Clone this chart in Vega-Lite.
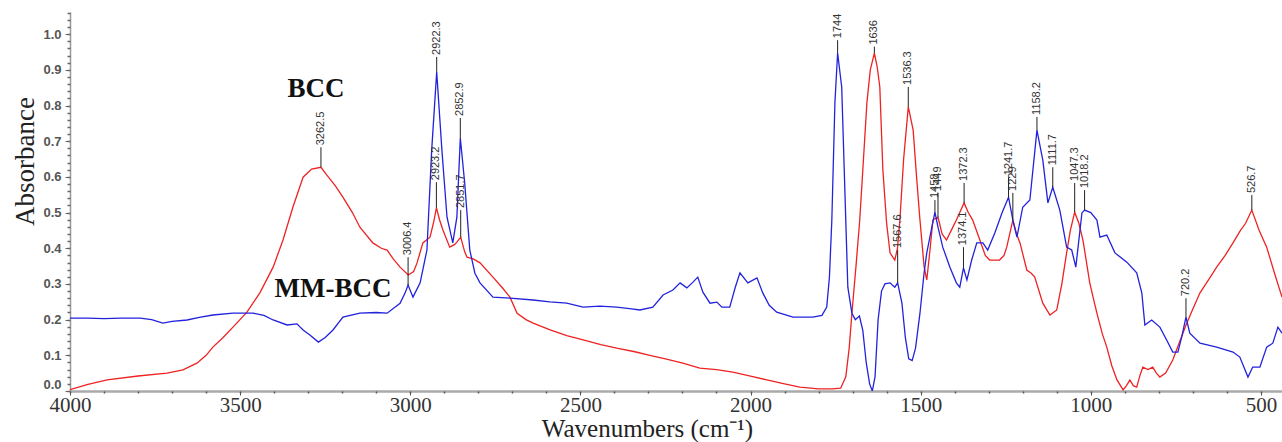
{
  "$schema": "https://vega.github.io/schema/vega-lite/v6.json",
  "width": 1212,
  "height": 379,
  "autosize": {"type": "none"},
  "padding": {"left": 70, "top": 12, "right": 0, "bottom": 51},
  "background": "white",
  "config": {"view": {"stroke": null}, "axis": {"grid": false}},
  "resolve": {"axis": {"x": "independent", "y": "independent"}},
  "datasets": {
    "spectra": [
      {"w":4000,"a":0.004,"s":"BCC"},{"w":3950,"a":0.018,"s":"BCC"},{"w":3891,"a":0.031,"s":"BCC"},{"w":3800,"a":0.042,"s":"BCC"},{"w":3715,"a":0.05,"s":"BCC"},{"w":3668,"a":0.059,"s":"BCC"},{"w":3627,"a":0.078,"s":"BCC"},{"w":3600,"a":0.1,"s":"BCC"},{"w":3580,"a":0.123,"s":"BCC"},{"w":3550,"a":0.15,"s":"BCC"},{"w":3521,"a":0.179,"s":"BCC"},{"w":3480,"a":0.221,"s":"BCC"},{"w":3442,"a":0.275,"s":"BCC"},{"w":3403,"a":0.347,"s":"BCC"},{"w":3374,"a":0.423,"s":"BCC"},{"w":3345,"a":0.515,"s":"BCC"},{"w":3315,"a":0.599,"s":"BCC"},{"w":3290,"a":0.622,"s":"BCC"},{"w":3262.5,"a":0.627,"s":"BCC"},{"w":3245,"a":0.605,"s":"BCC"},{"w":3220,"a":0.575,"s":"BCC"},{"w":3198,"a":0.543,"s":"BCC"},{"w":3170,"a":0.5,"s":"BCC"},{"w":3148,"a":0.459,"s":"BCC"},{"w":3110,"a":0.415,"s":"BCC"},{"w":3085,"a":0.4,"s":"BCC"},{"w":3068,"a":0.395,"s":"BCC"},{"w":3050,"a":0.37,"s":"BCC"},{"w":3030,"a":0.347,"s":"BCC"},{"w":3006,"a":0.325,"s":"BCC"},{"w":2990,"a":0.335,"s":"BCC"},{"w":2980,"a":0.359,"s":"BCC"},{"w":2963,"a":0.415,"s":"BCC"},{"w":2942,"a":0.431,"s":"BCC"},{"w":2932,"a":0.47,"s":"BCC"},{"w":2923,"a":0.513,"s":"BCC"},{"w":2914,"a":0.48,"s":"BCC"},{"w":2904,"a":0.451,"s":"BCC"},{"w":2884,"a":0.403,"s":"BCC"},{"w":2870,"a":0.41,"s":"BCC"},{"w":2863,"a":0.417,"s":"BCC"},{"w":2851.7,"a":0.431,"s":"BCC"},{"w":2840,"a":0.39,"s":"BCC"},{"w":2833,"a":0.375,"s":"BCC"},{"w":2815,"a":0.37,"s":"BCC"},{"w":2795,"a":0.359,"s":"BCC"},{"w":2757,"a":0.319,"s":"BCC"},{"w":2730,"a":0.29,"s":"BCC"},{"w":2707,"a":0.263,"s":"BCC"},{"w":2686,"a":0.218,"s":"BCC"},{"w":2660,"a":0.2,"s":"BCC"},{"w":2639,"a":0.19,"s":"BCC"},{"w":2589,"a":0.171,"s":"BCC"},{"w":2540,"a":0.155,"s":"BCC"},{"w":2492,"a":0.143,"s":"BCC"},{"w":2440,"a":0.13,"s":"BCC"},{"w":2393,"a":0.12,"s":"BCC"},{"w":2340,"a":0.11,"s":"BCC"},{"w":2296,"a":0.1,"s":"BCC"},{"w":2250,"a":0.09,"s":"BCC"},{"w":2199,"a":0.078,"s":"BCC"},{"w":2149,"a":0.064,"s":"BCC"},{"w":2100,"a":0.06,"s":"BCC"},{"w":2052,"a":0.053,"s":"BCC"},{"w":2000,"a":0.042,"s":"BCC"},{"w":1952,"a":0.031,"s":"BCC"},{"w":1900,"a":0.02,"s":"BCC"},{"w":1855,"a":0.011,"s":"BCC"},{"w":1800,"a":0.006,"s":"BCC"},{"w":1760,"a":0.006,"s":"BCC"},{"w":1735,"a":0.008,"s":"BCC"},{"w":1720,"a":0.04,"s":"BCC"},{"w":1710,"a":0.12,"s":"BCC"},{"w":1702,"a":0.218,"s":"BCC"},{"w":1690,"a":0.35,"s":"BCC"},{"w":1679,"a":0.479,"s":"BCC"},{"w":1668,"a":0.65,"s":"BCC"},{"w":1658,"a":0.807,"s":"BCC"},{"w":1648,"a":0.9,"s":"BCC"},{"w":1636,"a":0.947,"s":"BCC"},{"w":1628,"a":0.91,"s":"BCC"},{"w":1620,"a":0.852,"s":"BCC"},{"w":1611,"a":0.619,"s":"BCC"},{"w":1600,"a":0.47,"s":"BCC"},{"w":1590,"a":0.387,"s":"BCC"},{"w":1576,"a":0.367,"s":"BCC"},{"w":1568,"a":0.4,"s":"BCC"},{"w":1561,"a":0.479,"s":"BCC"},{"w":1550,"a":0.65,"s":"BCC"},{"w":1536.3,"a":0.796,"s":"BCC"},{"w":1522,"a":0.731,"s":"BCC"},{"w":1512,"a":0.6,"s":"BCC"},{"w":1502,"a":0.479,"s":"BCC"},{"w":1490,"a":0.35,"s":"BCC"},{"w":1482,"a":0.311,"s":"BCC"},{"w":1472,"a":0.4,"s":"BCC"},{"w":1464,"a":0.479,"s":"BCC"},{"w":1449,"a":0.487,"s":"BCC"},{"w":1437,"a":0.44,"s":"BCC"},{"w":1424,"a":0.423,"s":"BCC"},{"w":1410,"a":0.45,"s":"BCC"},{"w":1395,"a":0.479,"s":"BCC"},{"w":1372.3,"a":0.527,"s":"BCC"},{"w":1360,"a":0.5,"s":"BCC"},{"w":1347,"a":0.479,"s":"BCC"},{"w":1326,"a":0.423,"s":"BCC"},{"w":1310,"a":0.38,"s":"BCC"},{"w":1297,"a":0.367,"s":"BCC"},{"w":1268,"a":0.367,"s":"BCC"},{"w":1255,"a":0.38,"s":"BCC"},{"w":1247,"a":0.403,"s":"BCC"},{"w":1229,"a":0.479,"s":"BCC"},{"w":1218,"a":0.44,"s":"BCC"},{"w":1208,"a":0.415,"s":"BCC"},{"w":1188,"a":0.339,"s":"BCC"},{"w":1175,"a":0.33,"s":"BCC"},{"w":1165,"a":0.32,"s":"BCC"},{"w":1141,"a":0.246,"s":"BCC"},{"w":1120,"a":0.213,"s":"BCC"},{"w":1100,"a":0.227,"s":"BCC"},{"w":1085,"a":0.3,"s":"BCC"},{"w":1071,"a":0.387,"s":"BCC"},{"w":1060,"a":0.45,"s":"BCC"},{"w":1047.3,"a":0.501,"s":"BCC"},{"w":1035,"a":0.47,"s":"BCC"},{"w":1023,"a":0.423,"s":"BCC"},{"w":1003,"a":0.303,"s":"BCC"},{"w":990,"a":0.25,"s":"BCC"},{"w":979,"a":0.207,"s":"BCC"},{"w":966,"a":0.16,"s":"BCC"},{"w":953,"a":0.123,"s":"BCC"},{"w":938,"a":0.07,"s":"BCC"},{"w":923,"a":0.031,"s":"BCC"},{"w":905,"a":0.003,"s":"BCC"},{"w":895,"a":0.015,"s":"BCC"},{"w":885,"a":0.031,"s":"BCC"},{"w":875,"a":0.015,"s":"BCC"},{"w":865,"a":0.011,"s":"BCC"},{"w":855,"a":0.045,"s":"BCC"},{"w":847,"a":0.067,"s":"BCC"},{"w":832,"a":0.06,"s":"BCC"},{"w":818,"a":0.067,"s":"BCC"},{"w":807,"a":0.05,"s":"BCC"},{"w":797,"a":0.039,"s":"BCC"},{"w":780,"a":0.05,"s":"BCC"},{"w":759,"a":0.087,"s":"BCC"},{"w":738,"a":0.14,"s":"BCC"},{"w":718,"a":0.19,"s":"BCC"},{"w":700,"a":0.23,"s":"BCC"},{"w":679,"a":0.275,"s":"BCC"},{"w":655,"a":0.31,"s":"BCC"},{"w":630,"a":0.347,"s":"BCC"},{"w":605,"a":0.38,"s":"BCC"},{"w":582,"a":0.415,"s":"BCC"},{"w":560,"a":0.45,"s":"BCC"},{"w":545,"a":0.47,"s":"BCC"},{"w":526.7,"a":0.507,"s":"BCC"},{"w":505,"a":0.45,"s":"BCC"},{"w":483,"a":0.403,"s":"BCC"},{"w":460,"a":0.33,"s":"BCC"},{"w":438,"a":0.263,"s":"BCC"},
      {"w":4000,"a":0.204,"s":"MM-BCC"},{"w":3950,"a":0.204,"s":"MM-BCC"},{"w":3900,"a":0.203,"s":"MM-BCC"},{"w":3850,"a":0.204,"s":"MM-BCC"},{"w":3794,"a":0.204,"s":"MM-BCC"},{"w":3760,"a":0.2,"s":"MM-BCC"},{"w":3727,"a":0.19,"s":"MM-BCC"},{"w":3700,"a":0.195,"s":"MM-BCC"},{"w":3656,"a":0.199,"s":"MM-BCC"},{"w":3620,"a":0.206,"s":"MM-BCC"},{"w":3580,"a":0.213,"s":"MM-BCC"},{"w":3521,"a":0.218,"s":"MM-BCC"},{"w":3462,"a":0.218,"s":"MM-BCC"},{"w":3430,"a":0.212,"s":"MM-BCC"},{"w":3403,"a":0.199,"s":"MM-BCC"},{"w":3362,"a":0.185,"s":"MM-BCC"},{"w":3333,"a":0.188,"s":"MM-BCC"},{"w":3315,"a":0.171,"s":"MM-BCC"},{"w":3295,"a":0.157,"s":"MM-BCC"},{"w":3270,"a":0.137,"s":"MM-BCC"},{"w":3250,"a":0.15,"s":"MM-BCC"},{"w":3227,"a":0.171,"s":"MM-BCC"},{"w":3198,"a":0.207,"s":"MM-BCC"},{"w":3148,"a":0.218,"s":"MM-BCC"},{"w":3100,"a":0.22,"s":"MM-BCC"},{"w":3068,"a":0.218,"s":"MM-BCC"},{"w":3030,"a":0.246,"s":"MM-BCC"},{"w":3015,"a":0.275,"s":"MM-BCC"},{"w":3006.4,"a":0.297,"s":"MM-BCC"},{"w":2992,"a":0.263,"s":"MM-BCC"},{"w":2971,"a":0.303,"s":"MM-BCC"},{"w":2951,"a":0.395,"s":"MM-BCC"},{"w":2937,"a":0.675,"s":"MM-BCC"},{"w":2922.3,"a":0.894,"s":"MM-BCC"},{"w":2907,"a":0.675,"s":"MM-BCC"},{"w":2892,"a":0.487,"s":"MM-BCC"},{"w":2875,"a":0.415,"s":"MM-BCC"},{"w":2863,"a":0.487,"s":"MM-BCC"},{"w":2852.9,"a":0.709,"s":"MM-BCC"},{"w":2840,"a":0.583,"s":"MM-BCC"},{"w":2825,"a":0.395,"s":"MM-BCC"},{"w":2810,"a":0.33,"s":"MM-BCC"},{"w":2795,"a":0.303,"s":"MM-BCC"},{"w":2757,"a":0.263,"s":"MM-BCC"},{"w":2707,"a":0.26,"s":"MM-BCC"},{"w":2639,"a":0.255,"s":"MM-BCC"},{"w":2590,"a":0.25,"s":"MM-BCC"},{"w":2540,"a":0.246,"s":"MM-BCC"},{"w":2492,"a":0.235,"s":"MM-BCC"},{"w":2443,"a":0.238,"s":"MM-BCC"},{"w":2393,"a":0.235,"s":"MM-BCC"},{"w":2350,"a":0.23,"s":"MM-BCC"},{"w":2325,"a":0.227,"s":"MM-BCC"},{"w":2287,"a":0.235,"s":"MM-BCC"},{"w":2257,"a":0.269,"s":"MM-BCC"},{"w":2228,"a":0.283,"s":"MM-BCC"},{"w":2207,"a":0.303,"s":"MM-BCC"},{"w":2187,"a":0.289,"s":"MM-BCC"},{"w":2169,"a":0.305,"s":"MM-BCC"},{"w":2155,"a":0.319,"s":"MM-BCC"},{"w":2140,"a":0.277,"s":"MM-BCC"},{"w":2119,"a":0.246,"s":"MM-BCC"},{"w":2099,"a":0.249,"s":"MM-BCC"},{"w":2084,"a":0.235,"s":"MM-BCC"},{"w":2061,"a":0.235,"s":"MM-BCC"},{"w":2045,"a":0.29,"s":"MM-BCC"},{"w":2031,"a":0.331,"s":"MM-BCC"},{"w":2008,"a":0.303,"s":"MM-BCC"},{"w":1981,"a":0.317,"s":"MM-BCC"},{"w":1964,"a":0.275,"s":"MM-BCC"},{"w":1945,"a":0.24,"s":"MM-BCC"},{"w":1923,"a":0.221,"s":"MM-BCC"},{"w":1875,"a":0.207,"s":"MM-BCC"},{"w":1817,"a":0.207,"s":"MM-BCC"},{"w":1790,"a":0.212,"s":"MM-BCC"},{"w":1776,"a":0.235,"s":"MM-BCC"},{"w":1768,"a":0.32,"s":"MM-BCC"},{"w":1761,"a":0.479,"s":"MM-BCC"},{"w":1752,"a":0.807,"s":"MM-BCC"},{"w":1744,"a":0.947,"s":"MM-BCC"},{"w":1732,"a":0.852,"s":"MM-BCC"},{"w":1723,"a":0.571,"s":"MM-BCC"},{"w":1714,"a":0.291,"s":"MM-BCC"},{"w":1702,"a":0.218,"s":"MM-BCC"},{"w":1692,"a":0.2,"s":"MM-BCC"},{"w":1680,"a":0.21,"s":"MM-BCC"},{"w":1670,"a":0.17,"s":"MM-BCC"},{"w":1660,"a":0.08,"s":"MM-BCC"},{"w":1650,"a":0.02,"s":"MM-BCC"},{"w":1642,"a":0.0,"s":"MM-BCC"},{"w":1634,"a":0.04,"s":"MM-BCC"},{"w":1625,"a":0.2,"s":"MM-BCC"},{"w":1615,"a":0.28,"s":"MM-BCC"},{"w":1605,"a":0.3,"s":"MM-BCC"},{"w":1590,"a":0.303,"s":"MM-BCC"},{"w":1576,"a":0.291,"s":"MM-BCC"},{"w":1567.6,"a":0.303,"s":"MM-BCC"},{"w":1555,"a":0.246,"s":"MM-BCC"},{"w":1545,"a":0.15,"s":"MM-BCC"},{"w":1535,"a":0.09,"s":"MM-BCC"},{"w":1525,"a":0.085,"s":"MM-BCC"},{"w":1515,"a":0.12,"s":"MM-BCC"},{"w":1502,"a":0.218,"s":"MM-BCC"},{"w":1490,"a":0.33,"s":"MM-BCC"},{"w":1482,"a":0.387,"s":"MM-BCC"},{"w":1467,"a":0.459,"s":"MM-BCC"},{"w":1458,"a":0.501,"s":"MM-BCC"},{"w":1449,"a":0.459,"s":"MM-BCC"},{"w":1435,"a":0.403,"s":"MM-BCC"},{"w":1414,"a":0.347,"s":"MM-BCC"},{"w":1395,"a":0.303,"s":"MM-BCC"},{"w":1385,"a":0.291,"s":"MM-BCC"},{"w":1374.1,"a":0.345,"s":"MM-BCC"},{"w":1364,"a":0.311,"s":"MM-BCC"},{"w":1350,"a":0.367,"s":"MM-BCC"},{"w":1335,"a":0.415,"s":"MM-BCC"},{"w":1317,"a":0.415,"s":"MM-BCC"},{"w":1303,"a":0.395,"s":"MM-BCC"},{"w":1282,"a":0.443,"s":"MM-BCC"},{"w":1261,"a":0.499,"s":"MM-BCC"},{"w":1241.7,"a":0.543,"s":"MM-BCC"},{"w":1229,"a":0.479,"s":"MM-BCC"},{"w":1217,"a":0.431,"s":"MM-BCC"},{"w":1200,"a":0.515,"s":"MM-BCC"},{"w":1179,"a":0.535,"s":"MM-BCC"},{"w":1158.2,"a":0.731,"s":"MM-BCC"},{"w":1141,"a":0.647,"s":"MM-BCC"},{"w":1126,"a":0.527,"s":"MM-BCC"},{"w":1111.7,"a":0.571,"s":"MM-BCC"},{"w":1091,"a":0.507,"s":"MM-BCC"},{"w":1071,"a":0.403,"s":"MM-BCC"},{"w":1056,"a":0.395,"s":"MM-BCC"},{"w":1044,"a":0.347,"s":"MM-BCC"},{"w":1026,"a":0.499,"s":"MM-BCC"},{"w":1018.2,"a":0.507,"s":"MM-BCC"},{"w":1000,"a":0.5,"s":"MM-BCC"},{"w":982,"a":0.479,"s":"MM-BCC"},{"w":973,"a":0.431,"s":"MM-BCC"},{"w":953,"a":0.437,"s":"MM-BCC"},{"w":929,"a":0.387,"s":"MM-BCC"},{"w":894,"a":0.361,"s":"MM-BCC"},{"w":865,"a":0.331,"s":"MM-BCC"},{"w":850,"a":0.275,"s":"MM-BCC"},{"w":841,"a":0.185,"s":"MM-BCC"},{"w":821,"a":0.199,"s":"MM-BCC"},{"w":797,"a":0.179,"s":"MM-BCC"},{"w":777,"a":0.143,"s":"MM-BCC"},{"w":759,"a":0.109,"s":"MM-BCC"},{"w":744,"a":0.109,"s":"MM-BCC"},{"w":733,"a":0.15,"s":"MM-BCC"},{"w":720.2,"a":0.207,"s":"MM-BCC"},{"w":709,"a":0.162,"s":"MM-BCC"},{"w":679,"a":0.134,"s":"MM-BCC"},{"w":630,"a":0.123,"s":"MM-BCC"},{"w":582,"a":0.109,"s":"MM-BCC"},{"w":562,"a":0.095,"s":"MM-BCC"},{"w":538,"a":0.039,"s":"MM-BCC"},{"w":524,"a":0.067,"s":"MM-BCC"},{"w":503,"a":0.067,"s":"MM-BCC"},{"w":483,"a":0.123,"s":"MM-BCC"},{"w":465,"a":0.134,"s":"MM-BCC"},{"w":450,"a":0.179,"s":"MM-BCC"},{"w":438,"a":0.162,"s":"MM-BCC"}
    ],
    "peaks": [
      {"w":3262.5,"base":0.627,"top":0.683,"label":"3262.5"},
      {"w":3006.4,"base":0.297,"top":0.375,"label":"3006.4"},
      {"w":2922.3,"base":0.894,"top":0.936,"label":"2922.3"},
      {"w":2923.2,"base":0.513,"top":0.585,"label":"2923.2"},
      {"w":2852.9,"base":0.709,"top":0.765,"label":"2852.9"},
      {"w":2851.7,"base":0.431,"top":0.507,"label":"2851.7"},
      {"w":1744,"base":0.947,"top":0.983,"label":"1744"},
      {"w":1636,"base":0.947,"top":0.965,"label":"1636"},
      {"w":1536.3,"base":0.796,"top":0.852,"label":"1536.3"},
      {"w":1567.6,"base":0.303,"top":0.395,"label":"1567.6"},
      {"w":1458,"base":0.501,"top":0.535,"label":"1458"},
      {"w":1449,"base":0.487,"top":0.555,"label":"1449"},
      {"w":1372.3,"base":0.527,"top":0.583,"label":"1372.3"},
      {"w":1374.1,"base":0.345,"top":0.403,"label":"1374.1"},
      {"w":1241.7,"base":0.543,"top":0.599,"label":"1241.7"},
      {"w":1229,"base":0.479,"top":0.555,"label":"1229"},
      {"w":1158.2,"base":0.731,"top":0.768,"label":"1158.2"},
      {"w":1111.7,"base":0.571,"top":0.627,"label":"1111.7"},
      {"w":1047.3,"base":0.501,"top":0.583,"label":"1047.3"},
      {"w":1018.2,"base":0.507,"top":0.563,"label":"1018.2"},
      {"w":720.2,"base":0.207,"top":0.26,"label":"720.2"},
      {"w":526.7,"base":0.507,"top":0.549,"label":"526.7"}
    ],
    "names": [
      {"w":3277,"a":0.846,"name":"BCC"},
      {"w":3227,"a":0.286,"name":"MM-BCC"}
    ]
  },
  "layer": [
    {
      "data": {"name": "spectra"},
      "mark": {"type": "line", "strokeWidth": 1.3, "clip": true},
      "encoding": {
        "x": {
          "field": "w", "type": "quantitative",
          "scale": {"domain": [438, 4000], "reverse": true, "nice": false, "zero": false},
          "axis": {
            "orient": "bottom",
            "values": [500, 1000, 1500, 2000, 2500, 3000, 3500, 4000],
            "format": "d",
            "title": "Wavenumbers (cm⁻¹)",
            "titleFont": "Liberation Serif", "titleFontSize": 25, "titleFontWeight": "normal", "titleColor": "#222",
            "titleX": 577, "titleY": 50, "titleBaseline": "bottom", "titleAlign": "center",
            "labelFont": "Liberation Serif", "labelFontSize": 21, "labelColor": "#333", "labelPadding": -1,
            "labelOverlap": false, "labelFlush": false,
            "tickSize": 4, "tickColor": "#555", "domainColor": "#aaa", "domainWidth": 2.5
          }
        },
        "y": {
          "field": "a", "type": "quantitative",
          "scale": {"domain": [0, 1.062], "nice": false, "zero": false},
          "axis": {
            "orient": "left",
            "values": [0, 0.1, 0.2, 0.3, 0.4, 0.5, 0.6, 0.7, 0.8, 0.9, 1.0],
            "format": ".1f",
            "title": "Absorbance",
            "titleFont": "Liberation Serif", "titleFontSize": 27, "titleFontWeight": "normal", "titleColor": "#222",
            "titleX": -37, "titleY": 149, "titleBaseline": "alphabetic",
            "labelFont": "Liberation Sans", "labelFontSize": 13, "labelColor": "#555", "labelFontWeight": "bold",
            "labelPadding": 4, "labelFlush": true, "labelOverlap": false,
            "tickSize": 5, "tickColor": "#666", "domainColor": "#999", "domainWidth": 1.5
          }
        },
        "color": {
          "field": "s", "type": "nominal",
          "scale": {"domain": ["BCC", "MM-BCC"], "range": ["#ee2222", "#2222dd"]},
          "legend": null
        }
      }
    },
    {
      "data": {"name": "peaks"},
      "mark": {"type": "rule", "color": "#222", "strokeWidth": 1},
      "encoding": {
        "x": {
          "field": "w", "type": "quantitative",
          "axis": {
            "orient": "bottom",
            "values": [500,600,700,800,900,1000,1100,1200,1300,1400,1500,1600,1700,1800,1900,2000,2100,2200,2300,2400,2500,2600,2700,2800,2900,3000,3100,3200,3300,3400,3500,3600,3700,3800,3900,4000],
            "labels": false, "title": null, "domain": false, "grid": false,
            "tickSize": 2, "tickColor": "#555", "tickWidth": 1.5
          }
        },
        "y": {
          "field": "base", "type": "quantitative",
          "axis": {
            "orient": "left",
            "values": [0,0.02,0.04,0.06,0.08,0.1,0.12,0.14,0.16,0.18,0.2,0.22,0.24,0.26,0.28,0.3,0.32,0.34,0.36,0.38,0.4,0.42,0.44,0.46,0.48,0.5,0.52,0.54,0.56,0.58,0.6,0.62,0.64,0.66,0.68,0.7,0.72,0.74,0.76,0.78,0.8,0.82,0.84,0.86,0.88,0.9,0.92,0.94,0.96,0.98,1.0,1.02,1.04,1.06],
            "labels": false, "title": null, "domain": false, "grid": false,
            "tickSize": 3, "tickColor": "#666", "tickWidth": 1.5
          }
        },
        "y2": {"field": "top"}
      }
    },
    {
      "data": {"name": "peaks"},
      "mark": {"type": "text", "angle": 270, "align": "left", "baseline": "middle", "dx": 2, "font": "Liberation Sans", "fontSize": 11, "color": "#333"},
      "encoding": {
        "x": {"field": "w", "type": "quantitative", "axis": null},
        "y": {"field": "top", "type": "quantitative", "axis": null},
        "text": {"field": "label", "type": "nominal"}
      }
    },
    {
      "data": {"name": "names"},
      "mark": {"type": "text", "font": "Liberation Serif", "fontWeight": "bold", "fontSize": 27, "color": "#111"},
      "encoding": {
        "x": {"field": "w", "type": "quantitative", "axis": null},
        "y": {"field": "a", "type": "quantitative", "axis": null},
        "text": {"field": "name", "type": "nominal"}
      }
    }
  ]
}
